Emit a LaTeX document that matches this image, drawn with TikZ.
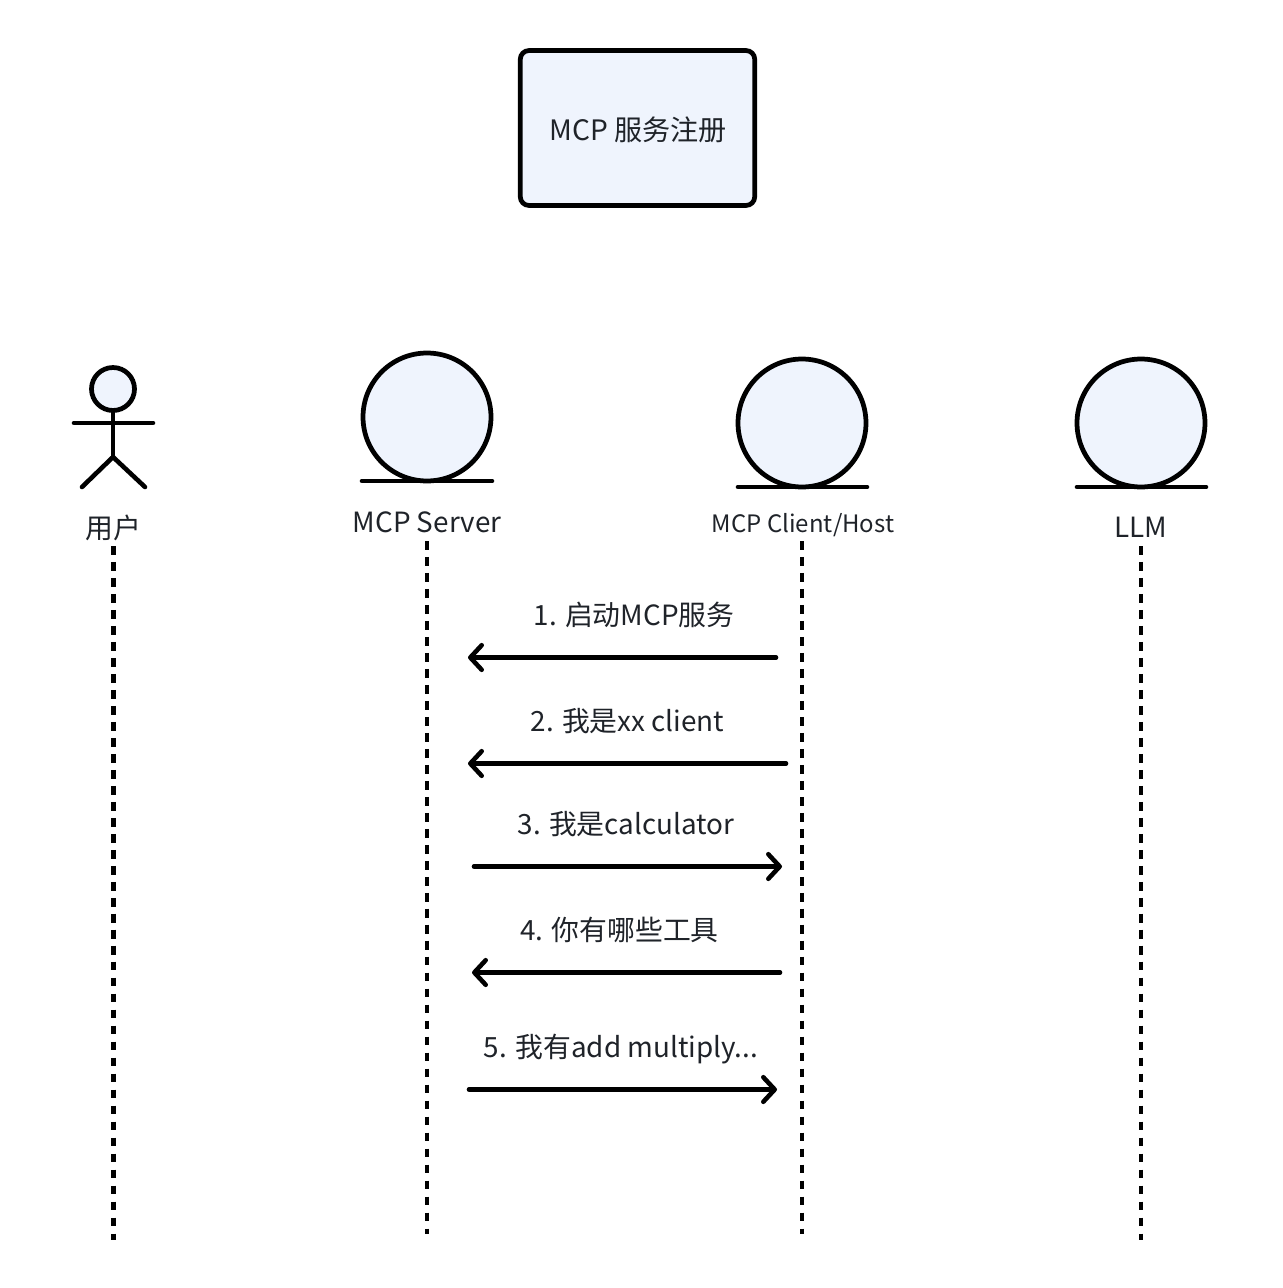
\documentclass[tikz,border=0pt]{standalone}
\usepackage{fontspec}
\setmainfont{Noto Sans CJK SC}
\usetikzlibrary{arrows.meta}
\definecolor{fillblue}{HTML}{EFF4FD}
\definecolor{inkdark}{HTML}{1F2329}
\tikzset{
    shapeline/.style={draw=black, line width=2.7pt, fill=fillblue},
    plainline/.style={draw=black, line width=2.6pt, line cap=round},
    lifeline/.style={draw=black, line width=2.6pt, dash pattern=on 5pt off 4.1pt},
    msgarrow/.style={draw=black, line width=2.6pt, line cap=round, -{Straight Barb[length=6.5pt,width=14pt,round]}},
    label/.style={text=inkdark, inner sep=0pt, font=\fontsize{15.85pt}{19pt}\selectfont},
    entity/.style={shapeline, circle, minimum size=2.56cm, inner sep=0pt},
}
\begin{document}
\begin{tikzpicture}[x=0.02cm, y=-0.02cm]
    \useasboundingbox (0,0) rectangle (1282,1288);
    \node[shapeline, rounded corners=5pt, minimum width=4.69cm, minimum height=3.1cm, inner sep=0pt] (title) at (637.5,128) {};
    \node[label, font=\fontsize{16pt}{19pt}\selectfont] (titletext) at (638,130) {MCP 服务注册};
    % actor
    \node[shapeline, circle, minimum size=0.86cm, inner sep=0pt] (head) at (113,389) {};
    \coordinate (hip) at (113,457);
    \coordinate (armL) at (74,423);
    \coordinate (armR) at (153,423);
    \coordinate (legL) at (82,487);
    \coordinate (legR) at (145,487);
    \draw[plainline] (head.south) -- (hip);
    \draw[plainline] (armL) -- (armR);
    \draw[plainline] (legL) -- (hip) -- (legR);
    % entities
    \node[entity] (server) at (427,417) {};
    \node[entity] (client) at (802,423) {};
    \node[entity] (llm) at (1141,423) {};
    \coordinate (serverL) at (362,481);
    \coordinate (serverR) at (492,481);
    \coordinate (clientL) at (738,487);
    \coordinate (clientR) at (867,487);
    \coordinate (llmL) at (1077,487);
    \coordinate (llmR) at (1206,487);
    \draw[plainline] (serverL) -- (serverR);
    \draw[plainline] (clientL) -- (clientR);
    \draw[plainline] (llmL) -- (llmR);
    % labels
    \node[label] (userlabel) at (113,527.5) {用户};
    \node[label] (serverlabel) at (427,522) {MCP Server};
    \node[label, font=\fontsize{13.65pt}{16pt}\selectfont] (clientlabel) at (803,525.5) {MCP Client/Host};
    \node[label] (llmlabel) at (1141,527.5) {LLM};
    % lifelines
    \coordinate (userstart) at (113.5,546);
    \coordinate (serverstart) at (427,541);
    \coordinate (clientstart) at (802,541);
    \coordinate (llmstart) at (1141,546);
    \coordinate (userend) at (113.5,1240);
    \coordinate (serverend) at (427,1234);
    \coordinate (clientend) at (802,1234);
    \coordinate (llmend) at (1141,1240);
    \draw[lifeline] (userstart) -- (userend);
    \draw[lifeline] (serverstart) -- (serverend);
    \draw[lifeline] (clientstart) -- (clientend);
    \draw[lifeline] (llmstart) -- (llmend);
    % messages
    \coordinate (m1a) at (776,657.5); \coordinate (m1b) at (468,657.5);
    \coordinate (m2a) at (786,763.5); \coordinate (m2b) at (468,763.5);
    \coordinate (m3a) at (474,866.5); \coordinate (m3b) at (782,866.5);
    \coordinate (m4a) at (780,972.5); \coordinate (m4b) at (472,972.5);
    \coordinate (m5a) at (469,1089.5); \coordinate (m5b) at (777,1089.5);
    \draw[msgarrow] (m1a) -- (m1b);
    \draw[msgarrow] (m2a) -- (m2b);
    \draw[msgarrow] (m3a) -- (m3b);
    \draw[msgarrow] (m4a) -- (m4b);
    \draw[msgarrow] (m5a) -- (m5b);
    \node[label] (m1text) at (634,615) {1. 启动MCP服务};
    \node[label] (m2text) at (627.5,721) {2. 我是xx client};
    \node[label] (m3text) at (626,824) {3. 我是calculator};
    \node[label] (m4text) at (619.5,930) {4. 你有哪些工具};
    \node[label] (m5text) at (621,1049) {5. 我有add multiply...};
\end{tikzpicture}
\end{document}
